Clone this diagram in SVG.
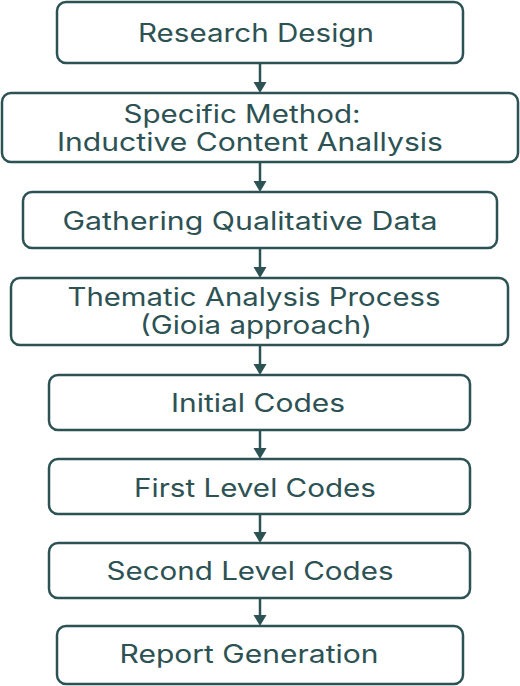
<svg xmlns="http://www.w3.org/2000/svg" width="520" height="686" viewBox="0 0 520 686">
<style>
.box{fill:#ffffff;stroke:#2d5254;stroke-width:2.5}
.lbl{font-family:Inter,"Noto Sans",sans-serif;font-size:25px;font-weight:400;fill:#2d5254;text-anchor:middle}
.conn{stroke:#2d5254;stroke-width:2.5;fill:none}
</style>
<defs>
<marker id="ah" markerUnits="userSpaceOnUse" markerWidth="11" markerHeight="14" viewBox="0 -7 11 14" refX="0" refY="0" orient="auto">
<path d="M0,-6.5 L11,0 L0,6.5 z" fill="#2d5254"/>
</marker>
</defs>
<rect width="520" height="686" fill="#ffffff"/>
<g id="connectors">
<line class="conn" x1="260" y1="63" x2="260" y2="82" marker-end="url(#ah)"/>
<line class="conn" x1="260" y1="162" x2="260" y2="181" marker-end="url(#ah)"/>
<line class="conn" x1="260" y1="248" x2="260" y2="267" marker-end="url(#ah)"/>
<line class="conn" x1="260" y1="345" x2="260" y2="364" marker-end="url(#ah)"/>
<line class="conn" x1="260" y1="430" x2="260" y2="448" marker-end="url(#ah)"/>
<line class="conn" x1="260" y1="514" x2="260" y2="532" marker-end="url(#ah)"/>
<line class="conn" x1="260" y1="598" x2="260" y2="615" marker-end="url(#ah)"/>
</g>
<g id="n1"><rect class="box" x="57" y="2" width="406" height="61" rx="9"/><text class="lbl" x="256" y="42" textLength="236" lengthAdjust="spacingAndGlyphs">Research Design</text></g>
<g id="n2"><rect class="box" x="2" y="93" width="516" height="69" rx="9"/><text class="lbl" x="242" y="123" textLength="237" lengthAdjust="spacingAndGlyphs">Specific Method:</text><text class="lbl" x="250" y="151" textLength="386" lengthAdjust="spacingAndGlyphs">Inductive Content Anallysis</text></g>
<g id="n3"><rect class="box" x="23" y="192" width="474" height="56" rx="9"/><text class="lbl" x="250" y="230" textLength="375" lengthAdjust="spacingAndGlyphs">Gathering Qualitative Data</text></g>
<g id="n4"><rect class="box" x="11" y="278" width="497" height="67" rx="9"/><text class="lbl" x="254" y="306" textLength="373" lengthAdjust="spacingAndGlyphs">Thematic Analysis Process</text><text class="lbl" x="256" y="334" textLength="232" lengthAdjust="spacingAndGlyphs">(Gioia approach)</text></g>
<g id="n5"><rect class="box" x="49" y="375" width="421" height="55" rx="9"/><text class="lbl" x="258" y="412" textLength="174" lengthAdjust="spacingAndGlyphs">Initial Codes</text></g>
<g id="n6"><rect class="box" x="49" y="459" width="421" height="55" rx="9"/><text class="lbl" x="255" y="497" textLength="242" lengthAdjust="spacingAndGlyphs">First Level Codes</text></g>
<g id="n7"><rect class="box" x="49" y="543" width="421" height="55" rx="9"/><text class="lbl" x="250" y="580" textLength="287" lengthAdjust="spacingAndGlyphs">Second Level Codes</text></g>
<g id="n8"><rect class="box" x="57" y="626" width="406" height="58" rx="9"/><text class="lbl" x="249" y="663" textLength="259" lengthAdjust="spacingAndGlyphs">Report Generation</text></g>
</svg>
